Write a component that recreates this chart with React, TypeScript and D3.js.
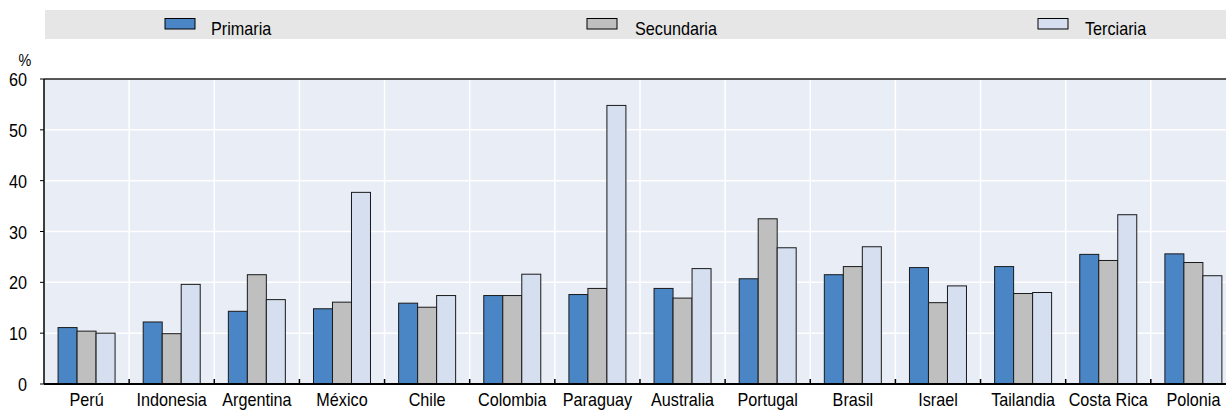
import React from "react";
import * as d3 from "d3";

const categories = ["Perú", "Indonesia", "Argentina", "México", "Chile", "Colombia", "Paraguay", "Australia", "Portugal", "Brasil", "Israel", "Tailandia", "Costa Rica", "Polonia"];
const seriesNames = ["Primaria", "Secundaria", "Terciaria"];
const primaria = [11.1, 12.2, 14.3, 14.8, 15.9, 17.4, 17.6, 18.8, 20.7, 21.5, 22.9, 23.1, 25.5, 25.6];
const secundaria = [10.4, 9.9, 21.5, 16.1, 15.1, 17.4, 18.8, 16.9, 32.5, 23.1, 16.0, 17.8, 24.3, 23.9];
const terciaria = [10.0, 19.6, 16.6, 37.7, 17.4, 21.6, 54.8, 22.7, 26.8, 27.0, 19.3, 18.0, 33.3, 21.3];
const yTicks = [0, 10, 20, 30, 40, 50, 60];
const colors = ["#4a86c6", "#bfbfbf", "#d5dff0"];

const W = 1226, H = 410;
const left = 44, top = 79, bottom = 384;
const band = 85.14;
const font = "'Liberation Sans', Arial, sans-serif";
const SX = 0.9;

function T({ x, y, anchor = "start", size = 18, children }: { x: number; y: number; anchor?: string; size?: number; children: React.ReactNode }) {
  return (
    <text transform={`translate(${x},${y}) scale(${SX},1)`} fontSize={size} textAnchor={anchor} fill="#000">{children}</text>
  );
}

export default function App() {
  const values = [primaria, secundaria, terciaria];
  const x0 = d3.scaleBand<string>().domain(categories).range([left, left + band * categories.length]).paddingInner(0).paddingOuter(0);
  const x1 = d3.scaleBand<string>().domain(seriesNames).range([0, 57]).padding(0);
  const off = (x0.bandwidth() - 57) / 2;
  const y = d3.scaleLinear().domain([0, 60]).range([bottom, top]);
  const right = left + band * categories.length;

  const legendX = [[165, 211], [587, 635], [1038, 1085]];

  return (
    <svg width={W} height={H} style={{ position: "absolute", left: 0, top: 0 }} fontFamily={font}>
      <rect x={0} y={0} width={W} height={H} fill="#fff" />
      {/* legend */}
      <rect x={45} y={10} width={W - 45} height={29} fill="#e6e6e6" />
      {seriesNames.map((s, i) => (
        <g key={s}>
          <rect x={legendX[i][0]} y={18.5} width={30} height={10.5} fill={colors[i]} stroke="#000" strokeWidth={1} />
          <T x={legendX[i][1]} y={35}>{s}</T>
        </g>
      ))}
      {/* plot bg */}
      <rect x={left} y={top} width={right - left} height={bottom - top} fill="#e9edf6" />
      {yTicks.filter(t => t > 0 && t < 60).map(t => (
        <line key={t} x1={left} x2={right} y1={y(t)} y2={y(t)} stroke="#fff" strokeWidth={1.5} />
      ))}
      {categories.slice(1).map(c => (
        <line key={c} x1={x0(c)!} x2={x0(c)!} y1={top} y2={bottom} stroke="#fff" strokeWidth={1.5} />
      ))}
      {/* bars */}
      {categories.map((c, ci) => (
        <g key={c}>
          {seriesNames.map((s, si) => {
            const v = values[si][ci];
            return (
              <rect key={s} x={x0(c)! + off + x1(s)!} y={y(v)} width={x1.bandwidth()} height={bottom - y(v)}
                fill={colors[si]} stroke="#1a1a1a" strokeWidth={1} />
            );
          })}
        </g>
      ))}
      {/* axes */}
      <line x1={left} x2={right} y1={top} y2={top} stroke="#222" strokeWidth={1.5} />
      <line x1={left} x2={left} y1={top} y2={bottom} stroke="#000" strokeWidth={1.5} />
      <line x1={left} x2={right} y1={bottom} y2={bottom} stroke="#000" strokeWidth={2} />
      {categories.slice(1).map(c => (
        <line key={c} x1={x0(c)!} x2={x0(c)!} y1={bottom - 5} y2={bottom} stroke="#000" strokeWidth={1.5} />
      ))}
      {yTicks.map(t => (
        <g key={t}>
          <line x1={left - 4} x2={left} y1={y(t)} y2={y(t)} stroke="#000" strokeWidth={1} />
          <T x={27} y={y(t) + 7} anchor="end">{t}</T>
        </g>
      ))}
      <T x={25} y={66} anchor="middle" size={16}>%</T>
      {categories.map(c => (
        <T key={c} x={x0(c)! + x0.bandwidth() / 2} y={406} anchor="middle">{c}</T>
      ))}
    </svg>
  );
}
